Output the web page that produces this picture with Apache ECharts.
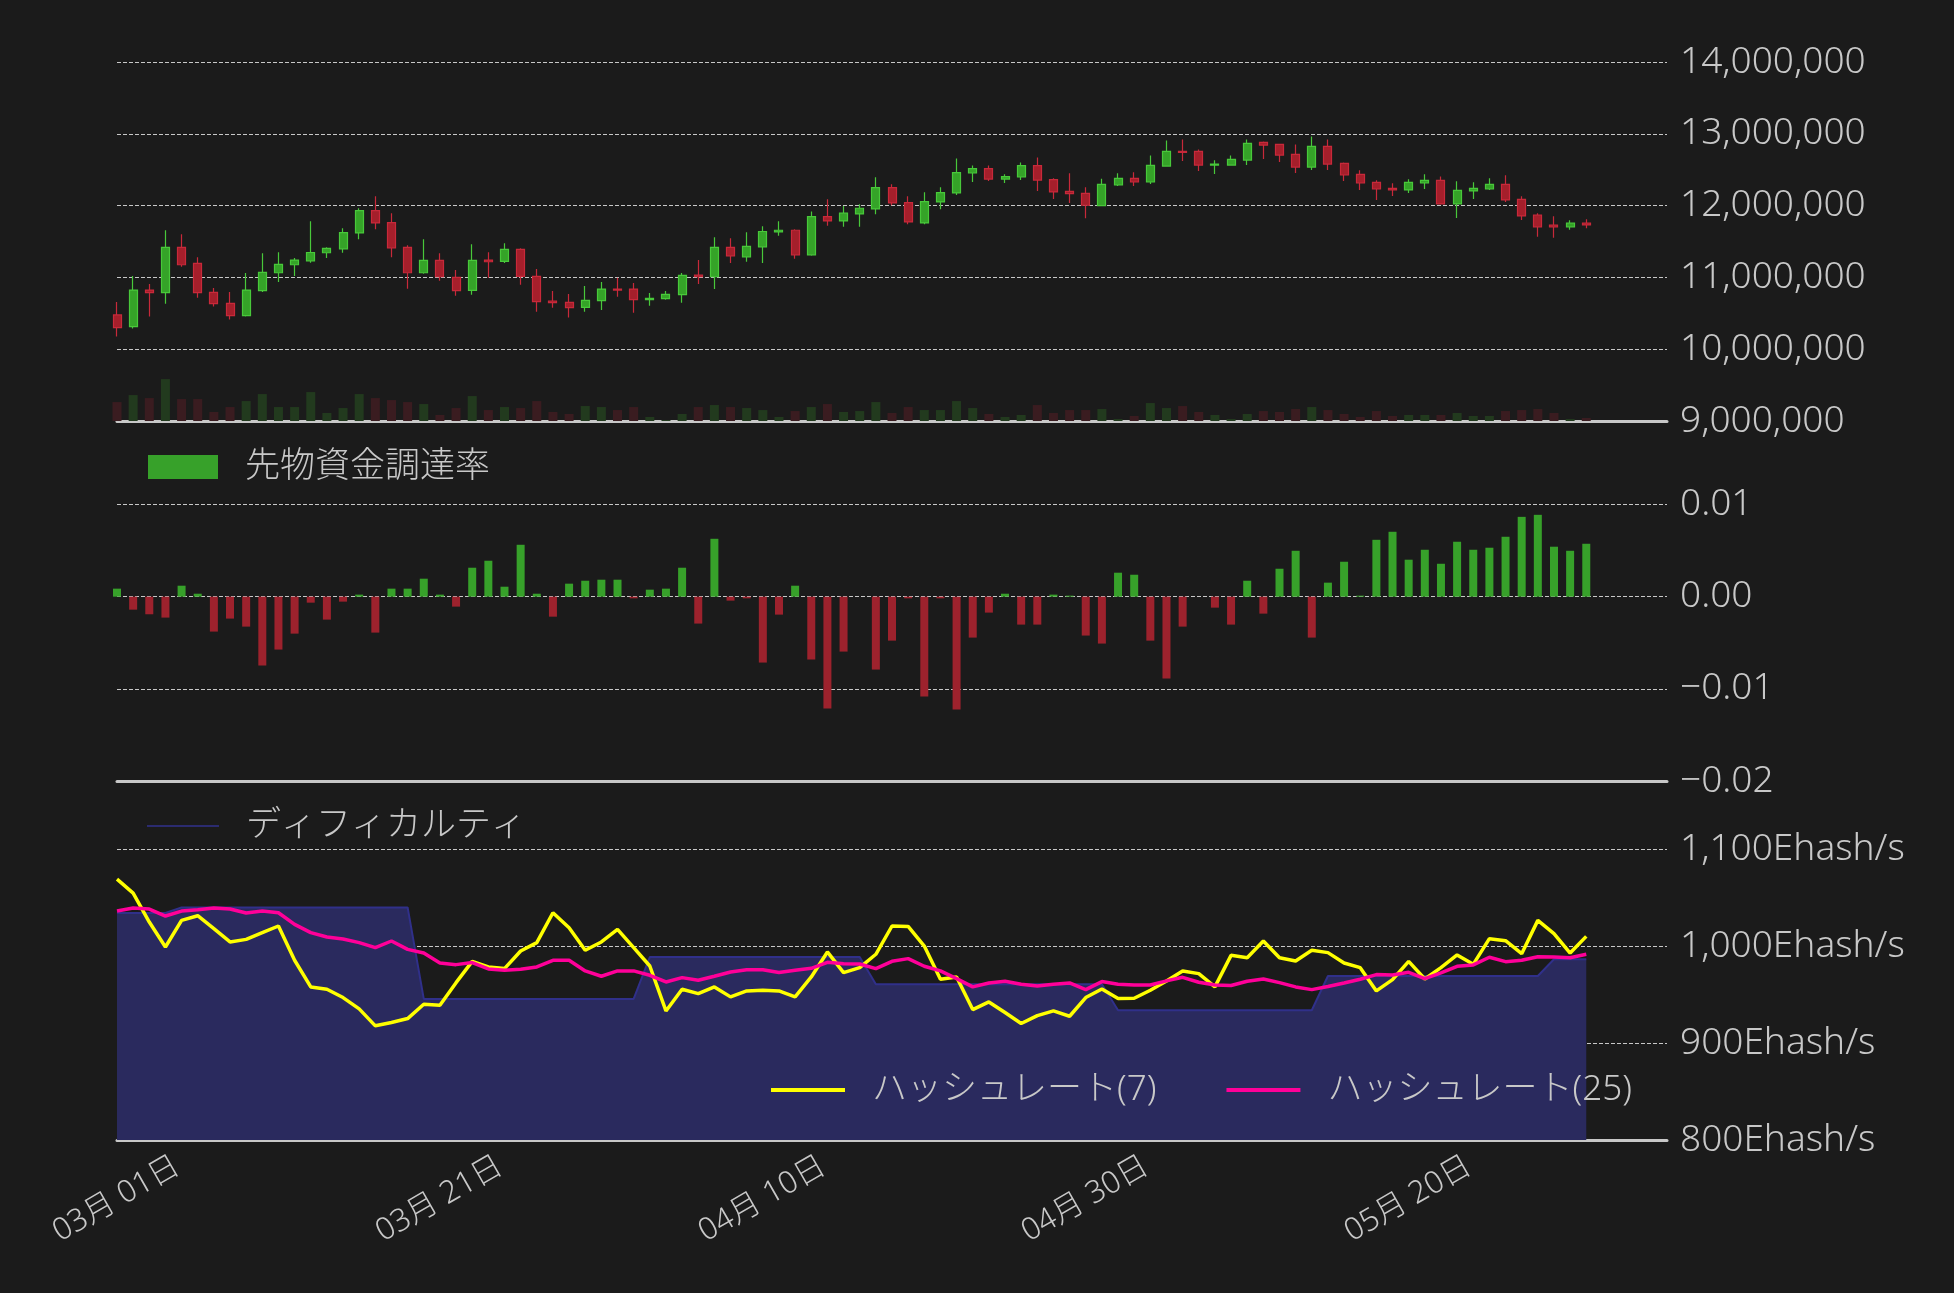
<!DOCTYPE html>
<html lang="ja">
<head>
    <meta charset="UTF-8">
    <title>BTC 価格・資金調達率・ハッシュレート</title>
    <style>
        *{
            padding:0;
            margin:0;
        }
        body{
            background:#1b1b1b;
        }
    </style>
    <script src="https://cdn.jsdelivr.net/npm/echarts@6/dist/echarts.min.js"></script>
</head>
<body>
<div id="main" style="width:1954px;height:1293px;"></div>
<script>
    // 日足 (x = 日のインデックス)
    var openP = [
        10477000, 10315000, 10824000, 10787000, 11417000, 11194000, 10792000, 10639000, 10468000, 10815000,
        11065000, 11176000, 11231000, 11343000, 11398000, 11620000, 11931000, 11764000, 11417000, 11065000,
        11236000, 11000000, 10819000, 11241000, 11222000, 11389000, 11014000, 10671000, 10653000, 10583000,
        10676000, 10838000, 10838000, 10690000, 10704000, 10759000, 11032000, 11009000, 11417000, 11287000,
        11426000, 11634000, 11657000, 11315000, 11847000, 11787000, 11884000, 11954000, 12250000, 12042000,
        11759000, 12051000, 12176000, 12454000, 12514000, 12370000, 12398000, 12556000, 12361000, 12199000,
        12171000, 12000000, 12287000, 12380000, 12329000, 12551000, 12755000, 12755000, 12565000, 12565000,
        12634000, 12880000, 12852000, 12713000, 12537000, 12824000, 12588000, 12435000, 12324000, 12241000,
        12218000, 12315000, 12352000, 12023000, 12204000, 12231000, 12296000, 12088000, 11866000, 11727000,
        11704000, 11755000
    ];
    var closeP = [
        10301000, 10824000, 10787000, 11417000, 11176000, 10787000, 10634000, 10468000, 10824000, 11069000,
        11181000, 11241000, 11347000, 11403000, 11625000, 11931000, 11759000, 11412000, 11065000, 11236000,
        11009000, 10815000, 11236000, 11218000, 11389000, 11014000, 10662000, 10648000, 10579000, 10681000,
        10838000, 10824000, 10690000, 10708000, 10764000, 11028000, 11009000, 11417000, 11301000, 11431000,
        11639000, 11657000, 11315000, 11847000, 11787000, 11894000, 11963000, 12250000, 12037000, 11773000,
        12056000, 12181000, 12458000, 12514000, 12370000, 12403000, 12556000, 12356000, 12190000, 12167000,
        12005000, 12296000, 12380000, 12329000, 12560000, 12755000, 12741000, 12565000, 12579000, 12644000,
        12866000, 12843000, 12704000, 12537000, 12824000, 12579000, 12426000, 12315000, 12231000, 12218000,
        12324000, 12352000, 12023000, 12213000, 12241000, 12296000, 12079000, 11856000, 11704000, 11704000,
        11755000, 11731000
    ];
    var lowP = [
        10176000, 10287000, 10454000, 10634000, 11148000, 10718000, 10593000, 10412000, 10454000, 10796000,
        10935000, 11019000, 11204000, 11269000, 11343000, 11532000, 11671000, 11282000, 10843000, 11051000,
        10954000, 10745000, 10759000, 10995000, 11199000, 10898000, 10523000, 10579000, 10440000, 10523000,
        10546000, 10731000, 10509000, 10606000, 10690000, 10648000, 10907000, 10838000, 11199000, 11218000,
        11199000, 11579000, 11259000, 11301000, 11718000, 11704000, 11704000, 11880000, 12005000, 11741000,
        11741000, 11949000, 12148000, 12329000, 12343000, 12315000, 12356000, 12204000, 12093000, 12037000,
        11824000, 11995000, 12273000, 12273000, 12301000, 12551000, 12620000, 12481000, 12440000, 12565000,
        12565000, 12648000, 12606000, 12454000, 12495000, 12495000, 12343000, 12218000, 12079000, 12134000,
        12176000, 12231000, 12023000, 11829000, 12093000, 12218000, 12051000, 11801000, 11565000, 11551000,
        11662000, 11685000
    ];
    var highP = [
        10657000, 11019000, 10907000, 11657000, 11602000, 11282000, 10852000, 10796000, 11060000, 11338000,
        11352000, 11269000, 11782000, 11421000, 11685000, 11963000, 12130000, 11894000, 11449000, 11532000,
        11338000, 11102000, 11463000, 11352000, 11477000, 11407000, 11116000, 10810000, 10769000, 10880000,
        10935000, 10995000, 10921000, 10782000, 10810000, 11060000, 11241000, 11560000, 11546000, 11630000,
        11713000, 11782000, 11671000, 11917000, 12088000, 11995000, 12019000, 12394000, 12296000, 12130000,
        12185000, 12255000, 12657000, 12560000, 12560000, 12435000, 12602000, 12671000, 12380000, 12449000,
        12255000, 12375000, 12449000, 12463000, 12699000, 12907000, 12921000, 12782000, 12630000, 12699000,
        12921000, 12894000, 12852000, 12852000, 12963000, 12921000, 12602000, 12491000, 12352000, 12310000,
        12366000, 12435000, 12407000, 12338000, 12324000, 12380000, 12421000, 12130000, 11894000, 11852000,
        11796000, 11810000
    ];
    var volume = [
        57, 78, 69, 126, 66, 66, 27, 42, 60, 81,
        42, 42, 87, 24, 39, 81, 69, 63, 57, 51,
        18, 39, 75, 33, 42, 39, 60, 27, 21, 45,
        42, 33, 42, 12, 3, 21, 42, 48, 42, 39,
        33, 12, 30, 42, 51, 27, 30, 57, 24, 42,
        33, 33, 60, 39, 21, 12, 18, 48, 24, 33,
        33, 36, 6, 15, 54, 39, 45, 27, 18, 6,
        21, 30, 27, 36, 42, 33, 21, 12, 30, 15,
        18, 18, 18, 24, 15, 15, 30, 33, 36, 24,
        6, 9
    ];
    var funding = [
        0.00087, -0.00141, -0.00191, -0.00227, 0.00119, 0.00032, -0.00379, -0.00238, -0.00325, -0.00747,
        -0.00574, -0.00401, -0.00065, -0.00249, -0.00054, 0.00022, -0.0039, 0.00087, 0.00087, 0.00195,
        0.00022, -0.00108, 0.00314, 0.0039, 0.00108, 0.00563, 0.00032, -0.00217, 0.00141, 0.00173,
        0.00184, 0.00184, -0.00018, 0.00076, 0.00087, 0.00314, -0.00292, 0.00628, -0.00043, -0.00018,
        -0.00715, -0.00195, 0.00119, -0.00682, -0.01213, -0.00596, 0, -0.00791, -0.00477, -0.00018,
        -0.01083, -0.00018, -0.01224, -0.00444, -0.00173, 0.00032, -0.00303, -0.00303, 0.00022, 0.00011,
        -0.00422, -0.00509, 0.0026, 0.00238, -0.00477, -0.00888, -0.00325, 0, -0.00119, -0.00303,
        0.00173, -0.00184, 0.00303, 0.00498, -0.00444, 0.00152, 0.00379, 0.00011, 0.00617, 0.00704,
        0.00401, 0.00509, 0.00357, 0.00596, 0.00509, 0.00531, 0.0065, 0.00866, 0.00888, 0.00542,
        0.00498, 0.00574
    ];
    var difficulty = [
        1034.4, 1034.4, 1034.4, 1034.4, 1040.2, 1040.2, 1040.2, 1040.2, 1040.2, 1040.2,
        1040.2, 1040.2, 1040.2, 1040.2, 1040.2, 1040.2, 1040.2, 1040.2, 1040.2, 945.7,
        945.7, 945.7, 945.7, 945.7, 945.7, 945.7, 945.7, 945.7, 945.7, 945.7,
        945.7, 945.7, 945.7, 989.0, 989.0, 989.0, 989.0, 989.0, 989.0, 989.0,
        989.0, 989.0, 989.0, 989.0, 989.0, 989.0, 989.0, 960.8, 960.8, 960.8,
        960.8, 960.8, 960.8, 960.8, 960.8, 960.8, 960.8, 960.8, 960.8, 960.8,
        960.8, 960.8, 934.0, 934.0, 934.0, 934.0, 934.0, 934.0, 934.0, 934.0,
        934.0, 934.0, 934.0, 934.0, 934.0, 969.4, 969.4, 969.4, 969.4, 969.4,
        969.4, 969.4, 969.4, 969.4, 969.4, 969.4, 969.4, 969.4, 969.4, 986.6,
        986.6, 986.6
    ];
    var hash7 = [
        1069.4, 1055.0, 1025.1, 999.3, 1026.8, 1031.6, 1018.2, 1004.5, 1007.2, 1014.1,
        1021.0, 985.6, 958.1, 955.7, 947.1, 935.4, 917.9, 921.3, 925.4, 940.2,
        939.2, 962.5, 984.5, 978.7, 977.0, 995.2, 1003.8, 1034.7, 1019.2, 995.9,
        1004.5, 1017.5, 998.6, 979.7, 933.3, 955.7, 951.2, 958.1, 947.8, 954.0,
        954.6, 954.0, 947.8, 968.4, 994.2, 972.9, 978.0, 991.8, 1021.0, 1020.6,
        1000.3, 966.0, 968.4, 934.7, 942.6, 931.6, 920.3, 928.5, 933.3, 927.8,
        947.1, 956.0, 946.0, 946.4, 954.6, 964.3, 974.6, 971.8, 958.1, 990.7,
        988.3, 1005.5, 988.3, 984.9, 995.9, 993.5, 982.8, 978.0, 954.0, 965.6,
        984.5, 966.3, 978.0, 991.1, 981.4, 1007.9, 1005.8, 992.4, 1026.8, 1013.1,
        993.1, 1010.3
    ];
    var hash25 = [
        1036.4, 1039.5, 1038.5, 1031.3, 1036.4, 1037.8, 1039.5, 1038.5, 1034.4, 1036.4,
        1034.7, 1022.7, 1014.1, 1009.6, 1007.6, 1003.8, 998.6, 1005.5, 996.9, 993.1,
        982.8, 981.1, 983.2, 976.6, 975.3, 976.3, 978.7, 985.6, 985.6, 974.6,
        969.1, 974.6, 974.6, 970.1, 963.2, 967.7, 964.9, 969.1, 973.5, 975.9,
        975.9, 972.9, 975.3, 977.3, 983.5, 982.1, 981.8, 977.0, 984.5, 987.3,
        979.4, 974.6, 966.7, 958.1, 962.2, 963.9, 960.8, 959.1, 960.8, 962.2,
        955.3, 963.6, 960.8, 960.1, 960.1, 964.3, 968.0, 962.9, 960.1, 959.5,
        963.9, 966.3, 962.5, 958.1, 955.3, 958.5, 962.2, 966.0, 970.8, 970.4,
        973.2, 966.7, 972.5, 979.4, 980.8, 988.7, 984.2, 985.6, 989.3, 989.0,
        988.3, 991.8
    ];
    // 日付ラベル
    var tickDays = [3.75, 23.75, 43.75, 63.75, 83.75];
    var tickLabels = ['03月 01日', '03月 21日', '04月 10日', '04月 30日', '05月 20日'];

    var FONT = '"Noto Sans", "Noto Sans CJK JP"';
    var TXT = '#c8c8c8';
    var UP = '#35a328', DOWN = '#a51f2b';

    var candleData = [], volData = [], fundData = [], diffData = [], h7Data = [], h25Data = [];
    for (var i = 0; i < openP.length; i++) {
        candleData.push([i, openP[i], closeP[i], lowP[i], highP[i]]);
        volData.push([i, volume[i]]);
        fundData.push([i, funding[i]]);
        diffData.push([i, difficulty[i]]);
        h7Data.push([i, hash7[i]]);
        h25Data.push([i, hash25[i]]);
    }

    var gridLine = {show: true, lineStyle: {color: '#c8c8c8', width: 1, type: [4, 2]}};

    function xAxisFor(idx, withLabel) {
        return {
            type: 'value', gridIndex: idx, min: 0, max: 96,
            axisLine: {show: true, onZero: false, lineStyle: {color: '#c8c8c8', width: 3}},
            axisTick: {show: false},
            splitLine: {show: false},
            axisLabel: withLabel ? {
                show: true,
                customValues: tickDays,
                rotate: 30,
                margin: 24,
                color: TXT,
                fontSize: 31,
                fontWeight: 300,
                fontFamily: FONT,
                formatter: function (v) {
                    for (var k = 0; k < tickDays.length; k++) {
                        if (Math.abs(tickDays[k] - v) < 0.01) return tickLabels[k];
                    }
                    return '';
                }
            } : {show: false}
        };
    }

    function yAxisFor(idx, min, max, interval, fmt) {
        return {
            type: 'value', gridIndex: idx, position: 'right',
            min: min, max: max, interval: interval,
            axisLine: {show: false, onZero: false},
            axisTick: {show: false},
            splitLine: gridLine,
            axisLabel: {
                color: TXT, fontSize: 37, fontWeight: 300, margin: 13,
                fontFamily: FONT, formatter: fmt
            }
        };
    }

    var legendText = {color: TXT, fontSize: 35, fontWeight: 300, lineHeight: 40, fontFamily: FONT, padding: [0, 0, 0, 22]};

    var myChart = echarts.init(document.getElementById('main'));
    var option = {
        backgroundColor: '#1b1b1b',
        animation: false,
        textStyle: {fontFamily: FONT},
        grid: [
            {left: 117, right: 287, top: 62, height: 359},
            {left: 117, right: 287, top: 504.5, height: 276.5},
            {left: 117, right: 287, top: 849.5, height: 290.5}
        ],
        legend: [
            {
                data: [{name: '先物資金調達率', itemStyle: {color: '#37a12a'}}],
                left: 148, top: 447, padding: 0, icon: 'rect',
                itemWidth: 70, itemHeight: 24, selectedMode: false, textStyle: legendText
            },
            {
                data: [{name: 'ディフィカルティ', itemStyle: {color: '#2b2b70'}}],
                left: 147, top: 806, padding: 0, icon: 'rect',
                itemWidth: 72, itemHeight: 2, selectedMode: false, textStyle: legendText
            },
            {
                data: [
                    {name: 'ハッシュレート(7)', itemStyle: {color: '#ffff00'}},
                    {name: 'ハッシュレート(25)', itemStyle: {color: '#ff0099'}}
                ],
                left: 771, top: 1070, padding: 0, icon: 'rect', itemGap: 70,
                itemWidth: 74, itemHeight: 4, selectedMode: false, textStyle: legendText
            }
        ],
        xAxis: [xAxisFor(0, false), xAxisFor(1, false), xAxisFor(2, true)],
        yAxis: [
            yAxisFor(0, 9000000, 14000000, 1000000, function (v) {
                return v.toLocaleString('en-US');
            }),
            {type: 'value', gridIndex: 0, min: 0, max: 1080, show: false, splitLine: {show: false}},
            yAxisFor(1, -0.02, 0.01, 0.01, function (v) {
                return (v < -1e-9 ? '\u2212' : '') + Math.abs(v).toFixed(2);
            }),
            yAxisFor(2, 800, 1100, 100, function (v) {
                return v.toLocaleString('en-US') + 'Ehash/s';
            })
        ],
        series: [
            {
                name: '価格', type: 'candlestick', xAxisIndex: 0, yAxisIndex: 0,
                barWidth: 8.5, data: candleData,
                itemStyle: {
                    color: UP, color0: DOWN,
                    borderColor: '#48c83a', borderColor0: '#c8293a', borderWidth: 1.2
                }
            },
            {
                name: '出来高', type: 'bar', xAxisIndex: 0, yAxisIndex: 1,
                barWidth: 9, data: volData,
                itemStyle: {
                    color: function (p) {
                        return closeP[p.dataIndex] >= openP[p.dataIndex] ? '#223a1e' : '#3a1c20';
                    }
                }
            },
            {
                name: '先物資金調達率', type: 'bar', xAxisIndex: 1, yAxisIndex: 2,
                barWidth: 8, data: fundData,
                itemStyle: {
                    color: function (p) {
                        return funding[p.dataIndex] >= 0 ? '#37a12a' : '#9d222d';
                    }
                }
            },
            {
                name: 'ディフィカルティ', type: 'line', xAxisIndex: 2, yAxisIndex: 3,
                data: diffData, symbol: 'none', color: '#2b2b70',
                lineStyle: {color: '#30308a', width: 2},
                areaStyle: {color: '#2a2a5e', opacity: 1}
            },
            {
                name: 'ハッシュレート(7)', type: 'line', xAxisIndex: 2, yAxisIndex: 3,
                data: h7Data, symbol: 'none', color: '#ffff00',
                lineStyle: {color: '#ffff00', width: 3.5}
            },
            {
                name: 'ハッシュレート(25)', type: 'line', xAxisIndex: 2, yAxisIndex: 3,
                data: h25Data, symbol: 'none', color: '#ff0099',
                lineStyle: {color: '#ff0099', width: 3.5}
            }
        ]
    };
    myChart.setOption(option);
</script>
</body>
</html>
